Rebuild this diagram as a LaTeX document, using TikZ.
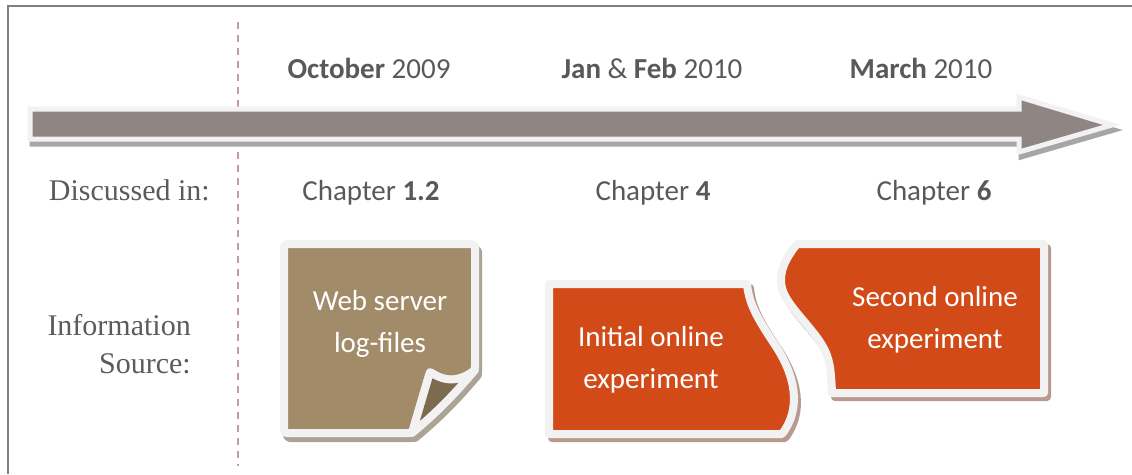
\documentclass[tikz,border=0pt]{standalone}
\usepackage{fontspec}
\setmainfont{Carlito}
\newfontfamily\serifside{Liberation Serif}
\definecolor{framecol}{HTML}{7F7F7F}
\definecolor{dashcol}{HTML}{C29CA0}
\definecolor{arrowfill}{HTML}{8F8583}
\definecolor{arrowshadow}{HTML}{A6A6A6}
\definecolor{rim}{HTML}{F2F2F2}
\definecolor{txtgray}{HTML}{595959}
\definecolor{sidegray}{HTML}{5E5A5A}
\definecolor{tan}{HTML}{A28B69}
\definecolor{tanflap}{HTML}{7D6B4D}
\definecolor{tanshadow}{HTML}{ABA393}
\definecolor{burnt}{HTML}{D24A18}
\definecolor{burntshadow}{HTML}{B89A8E}
\begin{document}
\begin{tikzpicture}[x=1pt,y=-1pt,
  lbl/.style={text=txtgray,font=\fontsize{29}{35}\selectfont,anchor=base,inner sep=0pt},
  sidelbl/.style={text=sidegray,font=\serifside\fontsize{30}{38}\selectfont,inner sep=0pt},
  inlbl/.style={text=white,font=\fontsize{29}{42}\selectfont,align=center,inner sep=0pt},
  rimmed/.style={draw=rim,line width=8pt,line join=round},
]
\useasboundingbox (0,0) rectangle (1132,474);
% frame
\draw[framecol,line width=2pt] (1132,6) -- (8,6) -- (8,474);
% dashed separator
\draw[dashcol,line width=1.5pt,dash pattern=on 7pt off 6pt] (238,22) -- (238,466);
% timeline arrow
\def\arrowpath{(30,109) -- (1019,109) -- (1019,97) -- (1112,125) -- (1019,152) -- (1019,139) -- (30,139) -- cycle}
\path[fill=arrowshadow,draw=arrowshadow,line width=5pt,shift={(2pt,-5pt)}] \arrowpath;
\path[draw=rim,line width=5pt,line join=miter,fill=arrowfill] \arrowpath;
% dates
\node[lbl] (oct) at (369,78) {\textbf{October} 2009};
\node[lbl] (janfeb) at (652,78) {\textbf{Jan} \& \textbf{Feb} 2010};
\node[lbl] (march) at (921,78) {\textbf{March} 2010};
% chapters
\node[sidelbl,anchor=base east] (disc) at (210,200) {Discussed in:};
\node[lbl] (ch1) at (371,200) {Chapter \textbf{1.2}};
\node[lbl] (ch4) at (653,200) {Chapter \textbf{4}};
\node[lbl] (ch6) at (934,200) {Chapter \textbf{6}};
\node[sidelbl,anchor=base east] (info) at (191,335) {Information};
\node[sidelbl,anchor=base east] (source) at (191,373) {Source:};
% note: web server log-files
\def\notepage{(284,244) -- (475,244) -- (475,370) .. controls (462,380) and (448,384) .. (430,372) -- (412,433) -- (284,433) -- cycle}
\def\noteflap{(430,372) .. controls (448,384) and (462,380) .. (475,370) .. controls (458,390) and (440,410) .. (412,433) -- cycle}
\begin{scope}[shift={(3pt,-5pt)}]
\path[fill=tanshadow,draw=tanshadow,line width=8pt,line join=round,rounded corners=3pt] \notepage;
\path[fill=tanshadow,draw=tanshadow,line width=8pt,line join=round] \noteflap;
\end{scope}
\path[rimmed,fill=tan,rounded corners=3pt] \notepage;
\path[rimmed,fill=tanflap] \noteflap;
\node[inlbl] (web) at (380,324) {Web server\\log-files};
% initial online experiment
\def\firstexp{(549,284) -- (747,284) .. controls (749,306) and (760,322) .. (775,345) .. controls (795,375) and (802,408) .. (782,434) -- (549,434) -- cycle}
\path[fill=burntshadow,draw=burntshadow,line width=8pt,line join=round,shift={(3pt,-4pt)}] \firstexp;
\path[rimmed,fill=burnt] \firstexp;
\node[inlbl] (initial) at (651,360) {Initial online\\experiment};
% second online experiment
\def\secondexp{(797,244) -- (1044,244) -- (1044,393) -- (832,393) .. controls (831,370) and (830,358) .. (822,345) .. controls (810,325) and (786,305) .. (782,288) .. controls (778,272) and (786,258) .. cycle}
\path[fill=burntshadow,draw=burntshadow,line width=8pt,line join=round,shift={(3pt,-4pt)}] \secondexp;
\path[rimmed,fill=burnt] \secondexp;
\node[inlbl] (second) at (935,320) {Second online\\experiment};
\end{tikzpicture}
\end{document}
